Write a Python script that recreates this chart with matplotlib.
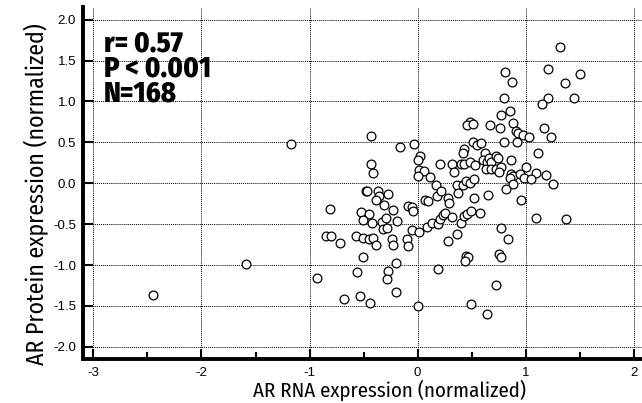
import matplotlib
matplotlib.use("Agg")
import matplotlib.pyplot as plt
from matplotlib import font_manager
from matplotlib.ticker import MultipleLocator, FuncFormatter

# ---- data ----
rna_expression = [
    -2.45, -1.59, -1.17, -0.93, -0.43, -0.16, -0.03, 0.02, 0.00, -0.43, -0.41, 0.01, 0.06, 0.00,
    0.11, 0.21, -0.48, -0.47, -0.37, -0.36, -0.27, -0.39, -0.31, -0.23, -0.81, -0.52, -0.45, -0.09,
    -0.05, -0.04, 0.07, 0.10, 0.17, 0.18, -0.51, -0.42, -0.33, -0.29, -0.19, -0.32, -0.28, -0.05,
    0.01, 0.09, 0.13, -0.85, -0.80, -0.72, -0.57, -0.51, -0.45, -0.41, -0.39, -0.24, -0.23, -0.10,
    -0.09, -0.51, -0.56, -0.20, -0.27, -0.28, 0.19, -0.20, -0.68, -0.53, -0.44, 0.00,
    0.77, 0.85, 0.48, 0.46, 0.51, 0.67, 0.76, 0.88, 0.91, 0.93, 0.97, 1.03, 1.17, 1.23, 0.51, 0.55,
    0.59, 0.80, 0.92, 0.43, 0.42, 1.11, 0.62, 0.32, 0.34, 0.40, 0.43, 0.48, 0.53, 0.60, 0.64, 0.66,
    0.68, 0.72, 0.74, 0.86, 0.63, 0.68, 0.72, 0.77, 0.75, 1.00, 1.09, 0.86, 0.88, 0.85, 0.95, 0.98,
    1.05, 1.19, 1.25,
    0.22, 0.28, 0.29, 0.36, 0.37, 0.42, 0.45, 0.48, 0.52, 0.82, 0.88, 0.52, 0.65, 0.96, 0.19, 0.21,
    0.23, 0.25, 0.32, 0.40, 0.43, 0.46, 0.49, 0.58, 0.36, 0.28, 0.77, 0.84, 1.09, 1.37, 0.45, 0.47,
    0.44, 0.75, 0.77, 0.72, 0.49, 0.64, 1.32, 0.81, 0.87, 1.21, 1.36, 1.50, 0.80, 1.21, 1.15, 1.45,
]
protein_expression = [
    -1.37, -0.99, 0.48, -1.16, 0.58, 0.44, 0.48, 0.33, 0.28, 0.23, 0.12, 0.16, 0.15, 0.09,
    0.08, 0.23, -0.10, -0.09, -0.09, -0.15, -0.13, -0.21, -0.27, -0.33, -0.31, -0.35, -0.37, -0.28,
    -0.29, -0.34, -0.20, -0.22, -0.02, -0.15, -0.45, -0.49, -0.47, -0.42, -0.46, -0.56, -0.55, -0.57,
    -0.60, -0.54, -0.49, -0.65, -0.65, -0.73, -0.64, -0.67, -0.68, -0.67, -0.75, -0.68, -0.75, -0.68,
    -0.77, -0.90, -1.08, -0.97, -1.07, -1.17, -1.05, -1.33, -1.41, -1.38, -1.46, -1.50,
    0.84, 0.88, 0.75, 0.71, 0.72, 0.71, 0.67, 0.74, 0.64, 0.62, 0.59, 0.57, 0.67, 0.57, 0.51, 0.47,
    0.49, 0.50, 0.51, 0.42, 0.37, 0.37, 0.37, 0.24, 0.14, 0.24, 0.24, 0.26, 0.22, 0.29, 0.26, 0.31,
    0.26, 0.33, 0.31, 0.28, 0.18, 0.17, 0.18, 0.20, 0.14, 0.20, 0.13, 0.11, 0.09, 0.06, 0.11, 0.06,
    0.05, 0.10, -0.01,
    -0.10, -0.18, -0.24, -0.02, -0.12, -0.02, 0.03, 0.00, 0.05, -0.07, -0.01, -0.18, -0.14, -0.20, -0.50, -0.44,
    -0.39, -0.36, -0.41, -0.48, -0.40, -0.38, -0.34, -0.36, -0.62, -0.71, -0.55, -0.68, -0.43, -0.44, -0.89, -0.90,
    -0.95, -0.86, -0.90, -1.24, -1.48, -1.60, 1.66, 1.36, 1.24, 1.40, 1.23, 1.34, 1.04, 1.04, 0.97, 1.04,
]
x_ticks = [-3, -2, -1, 0, 1, 2]
y_ticks = [-2.0, -1.5, -1.0, -0.5, 0.0, 0.5, 1.0, 1.5, 2.0]
stats_text = "r= 0.57\nP < 0.001\nN=168"
x_label = "AR RNA expression (normalized)"
y_label = "AR Protein expression (normalized)"

# ---- fonts ----
names = {f.name for f in font_manager.fontManager.ttflist}
cond = None
for cand in ("Fira Sans Condensed", "PT Sans Narrow", "Open Sans Condensed", "Roboto Condensed"):
    if cand in names:
        cond = cand
        break
narrow = dict(family=[cond, "DejaVu Sans"]) if cond else dict(family=["DejaVu Sans"], stretch="condensed")
tick_font = "Liberation Sans" if "Liberation Sans" in names else "DejaVu Sans"

W, H = 642, 403
fig = plt.figure(figsize=(W / 100, H / 100), dpi=100)
ax = fig.add_axes([83 / W, (H - 359) / H, (642 - 83) / W, (359 - 7) / H])

ax.scatter(rna_expression, protein_expression, s=40, facecolors="white",
           edgecolors="black", linewidths=0.9, zorder=3)

ax.set_xlim(-3.096, 2.075)
ax.set_ylim(-2.148, 2.155)

ax.set_xticks(x_ticks)
ax.set_yticks(y_ticks)
ax.xaxis.set_minor_locator(MultipleLocator(0.5))
ax.xaxis.set_major_formatter(FuncFormatter(lambda v, p: f"{v:.0f}".replace("\u2212", "-")))
ax.yaxis.set_major_formatter(FuncFormatter(lambda v, p: f"{v:.1f}".replace("\u2212", "-")))

for lab in ax.get_xticklabels() + ax.get_yticklabels():
    lab.set_fontfamily(tick_font)
ax.tick_params(axis="both", which="major", direction="in", length=7, width=1.5,
               labelsize=9.5, pad=5, colors="black")
ax.tick_params(axis="x", which="major", pad=6)
ax.tick_params(axis="x", which="minor", direction="in", length=5, width=1.5)
ax.tick_params(axis="y", which="minor", left=False)

ax.grid(True, which="major", linestyle=(0, (1, 1)), color="black", linewidth=0.7, zorder=0)
ax.set_axisbelow(True)

for side in ("top", "right"):
    ax.spines[side].set_visible(False)
for side in ("left", "bottom"):
    ax.spines[side].set_linewidth(2.8)
    ax.spines[side].set_color("black")

ax.text(104 / W, 1 - 30 / H, stats_text, transform=fig.transFigure, ha="left", va="top",
        fontsize=20.5, fontweight=800, linespacing=0.85, **narrow)

fig.text(390 / W, 1 - 390 / H, x_label, ha="center", va="center", fontsize=15, **narrow)
fig.text(36 / W, 1 - 194 / H, y_label, ha="center", va="center", rotation=90,
         fontsize=17.1, **narrow)

fig.savefig("out.png", dpi=100)
